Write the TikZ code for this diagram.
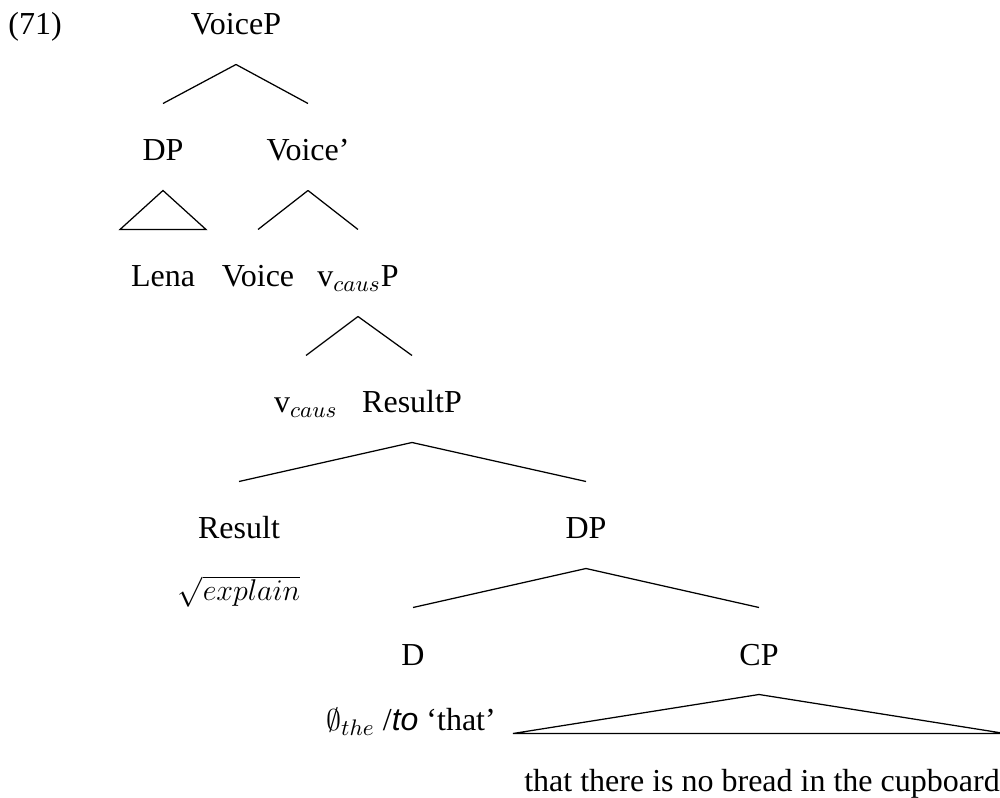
\documentclass[tikz,border=0pt]{standalone}
\usepackage{amsmath,amssymb}
\usepackage{fontspec}
\setmainfont{Liberation Serif}
\setsansfont{Liberation Sans}
\usepackage{tikz}
\usetikzlibrary{calc}
\tikzset{
  cat/.style={inner sep=0pt,text height=22.8pt,text depth=11.6pt,anchor=base,
              font=\fontsize{12.8}{15}\selectfont},
  gloss/.style={inner sep=0pt,anchor=base,font=\fontsize{12.8}{15}\selectfont},
  branch/.style={line width=.5pt,line join=miter},
}

\begin{document}
\begin{tikzpicture}[x=.4pt,y=-.4pt]
  \useasboundingbox (0,0) rectangle (1000,798);
  % (71): VoiceP down to the CP clause
  \node[gloss,anchor=base west] (exno) at (8,35) {(71)};
  \node[cat] (voiceP) at (236,35) {VoiceP};
  \node[cat] (dpA) at (163,161) {DP};
  \node[cat] (voiceBar) at (308,161) {Voice'};
  \node[cat] (lena) at (163,287) {Lena};
  \node[cat] (voice) at (258,287) {Voice};
  \node[cat] (vcausP) at (358,287) {v$_{caus}$P};
  \node[cat] (vcaus) at (306,413) {v$_{caus}$};
  \node[cat] (resultP) at (412,413) {ResultP};
  \node[cat] (result) at (239,539) {Result};
  \node[cat] (dpB) at (586,539) {DP};
  \node[gloss] (root) at (239,601) {$\sqrt{explain}$};
  \node[cat] (d) at (413,665) {D};
  \node[cat] (cp) at (759,665) {CP};
  \node[gloss] (dhead) at (411,730) {$\emptyset_{the}$ /\textsf{\textit{to}} `that'};
  \node[cat] (clause) at (762,791) {that there is no bread in the cupboard};

  \foreach \p/\c in {voiceP/dpA,voiceP/voiceBar,voiceBar/voice,voiceBar/vcausP,
                     vcausP/vcaus,vcausP/resultP,resultP/result,resultP/dpB,
                     dpB/d,dpB/cp}
    \draw[branch] (\p.south) -- (\c.north);
  \draw[branch] (dpA.south) -- ($(lena.north)+(-43,0)$) -- ($(lena.north)+(43,0)$) -- cycle;
  \draw[branch] (cp.south) -- ($(cp.south |- clause.north)+(-246,0)$)
    -- ($(cp.south |- clause.north)+(246,0)$) -- cycle;
\end{tikzpicture}
\end{document}
